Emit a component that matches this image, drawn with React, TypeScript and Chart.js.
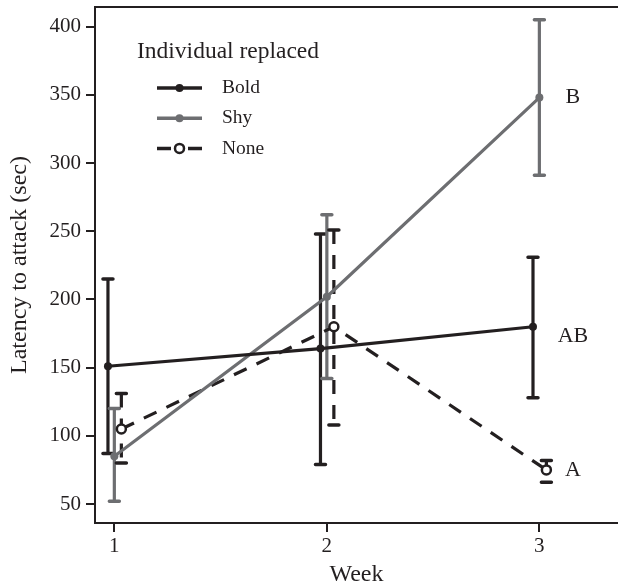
import React, { useEffect, useRef } from "react";
import { Chart, registerables } from "chart.js";

Chart.register(...registerables);

// ---- data ----
const weeks = [1, 2, 3];
const seriesNames = ["Bold", "Shy", "None"];
const boldMean = [151, 164, 180];
const boldUpper = [215, 248, 231];
const boldLower = [87, 79, 128];
const shyMean = [85, 202, 348];
const shyUpper = [120, 262, 405];
const shyLower = [52, 142, 291];
const noneMean = [105, 180, 75];
const noneUpper = [131, 251, 82];
const noneLower = [80, 108, 66];
const yTicks = [50, 100, 150, 200, 250, 300, 350, 400];
const xTicks = [1, 2, 3];
const letters = ["AB", "B", "A"];
const letterValues = [173, 348, 75];
const legendTitle = "Individual replaced";
const xTitle = "Week";
const yTitle = "Latency to attack (sec)";

// ---- styles ----
const DARK = "#231f20";
const GREY = "#6d6e71";
const FONT = "'Liberation Serif', 'Times New Roman', serif";
const dodges = [-0.03, 0, 0.033];
const colors = [DARK, GREY, DARK];
const dashes: number[][] = [[], [], [14, 11]];
const hollow = [false, false, true];
const means = [boldMean, shyMean, noneMean];
const uppers = [boldUpper, shyUpper, noneUpper];
const lowers = [boldLower, shyLower, noneLower];

const zeroPad = (s: any) => {
  s.paddingLeft = 0;
  s.paddingRight = 0;
  s.paddingTop = 0;
  s.paddingBottom = 0;
};

const errorBarPlugin = {
  id: "errorBars",
  beforeDatasetsDraw(chart: any) {
    const ctx = chart.ctx;
    const xs = chart.scales.x;
    const ys = chart.scales.y;
    ctx.save();
    means.forEach((_m, si) => {
      weeks.forEach((w, i) => {
        const x = xs.getPixelForValue(w + dodges[si]);
        const yt = ys.getPixelForValue(uppers[si][i]);
        const yb = ys.getPixelForValue(lowers[si][i]);
        ctx.strokeStyle = colors[si];
        ctx.lineWidth = 3.2;
        ctx.lineCap = "butt";
        ctx.setLineDash(dashes[si]);
        ctx.beginPath();
        ctx.moveTo(x, yt);
        ctx.lineTo(x, yb);
        ctx.stroke();
        ctx.setLineDash([]);
        ctx.lineWidth = 3.5;
        ctx.lineCap = "round";
        ctx.beginPath();
        ctx.moveTo(x - 5, yt);
        ctx.lineTo(x + 5, yt);
        ctx.moveTo(x - 5, yb);
        ctx.lineTo(x + 5, yb);
        ctx.stroke();
      });
    });
    ctx.restore();
  },
  afterDatasetsDraw(chart: any) {
    const ctx = chart.ctx;
    const xs = chart.scales.x;
    const ys = chart.scales.y;
    const area = chart.chartArea;
    ctx.save();
    // top frame line
    ctx.strokeStyle = DARK;
    ctx.lineWidth = 2;
    ctx.beginPath();
    ctx.moveTo(area.left - 1, area.top);
    ctx.lineTo(area.right, area.top);
    ctx.stroke();

    // letters
    ctx.fillStyle = DARK;
    ctx.font = `22px ${FONT}`;
    ctx.textAlign = "center";
    ctx.textBaseline = "middle";
    letters.forEach((t, i) => {
      ctx.fillText(t, xs.getPixelForValue(3.158), ys.getPixelForValue(letterValues[i]));
    });

    // legend
    const lx = area.left + 42;
    const ly = area.top + 45;
    ctx.textAlign = "left";
    ctx.font = `23.5px ${FONT}`;
    ctx.fillText(legendTitle, lx, ly);
    ctx.font = `19.5px ${FONT}`;
    seriesNames.forEach((name, si) => {
      const y = ly + 36 + si * 30.2;
      const x0 = lx + 20;
      const x1 = lx + 65;
      const xm = (x0 + x1) / 2;
      ctx.strokeStyle = colors[si];
      ctx.lineWidth = 3.5;
      ctx.lineCap = "butt";
      ctx.beginPath();
      if (dashes[si].length) {
        ctx.moveTo(x0, y);
        ctx.lineTo(x0 + 14, y);
        ctx.moveTo(x1 - 14, y);
        ctx.lineTo(x1, y);
      } else {
        ctx.moveTo(x0, y);
        ctx.lineTo(x1, y);
      }
      ctx.stroke();
      ctx.beginPath();
      if (hollow[si]) {
        ctx.arc(xm, y, 4.5, 0, Math.PI * 2);
        ctx.fillStyle = "#ffffff";
        ctx.fill();
        ctx.lineWidth = 2.5;
        ctx.stroke();
      } else {
        ctx.arc(xm, y, 4, 0, Math.PI * 2);
        ctx.fillStyle = colors[si];
        ctx.fill();
      }
      ctx.fillStyle = DARK;
      ctx.fillText(name, lx + 85, y);
    });
    ctx.restore();
  },
};

export default function App() {
  const ref = useRef<HTMLCanvasElement | null>(null);
  useEffect(() => {
    document.body.style.margin = "0";
    const canvas = ref.current;
    if (!canvas) return;
    const datasets = seriesNames.map((name, si) => ({
      label: name,
      data: weeks.map((w, i) => ({ x: w + dodges[si], y: means[si][i] })),
      borderColor: colors[si],
      backgroundColor: hollow[si] ? "#ffffff" : colors[si],
      borderWidth: 3.2,
      borderDash: dashes[si],
      pointRadius: hollow[si] ? 4.5 : 4,
      pointBorderWidth: hollow[si] ? 2.5 : 0,
      pointBorderColor: colors[si],
      pointBackgroundColor: hollow[si] ? "#ffffff" : colors[si],
      tension: 0,
      fill: false,
    }));
    const chart = new Chart(canvas, {
      type: "line",
      data: { datasets },
      options: {
        animation: false,
        responsive: false,
        maintainAspectRatio: false,
        devicePixelRatio: 1,
        layout: { padding: { top: 6, right: 0, left: 0, bottom: 0 } },
        plugins: { legend: { display: false }, tooltip: { enabled: false } },
        scales: {
          x: {
            type: "linear",
            min: 0.909,
            max: 3.37,
            afterBuildTicks: (s: any) => {
              s.ticks = xTicks.map((v) => ({ value: v }));
            },
            afterFit: (s: any) => {
              s.height = 64;
              zeroPad(s);
            },
            grid: { drawOnChartArea: false, tickLength: 9, color: DARK, lineWidth: 2 },
            border: { display: true, color: DARK, width: 2 },
            ticks: {
              color: DARK,
              font: { family: FONT, size: 21 },
              padding: 2,
              maxRotation: 0,
              autoSkip: false,
              callback: (v: any) => String(v),
            },
            title: {
              display: true,
              text: xTitle,
              color: DARK,
              font: { family: FONT, size: 24, lineHeight: 1 },
              padding: { top: 0, bottom: 0 },
            },
          },
          y: {
            type: "linear",
            min: 36.1,
            max: 414.4,
            afterBuildTicks: (s: any) => {
              s.ticks = yTicks.map((v) => ({ value: v }));
            },
            afterFit: (s: any) => {
              s.width = 95;
              zeroPad(s);
            },
            grid: { drawOnChartArea: false, tickLength: 9, color: DARK, lineWidth: 2 },
            border: { display: true, color: DARK, width: 2 },
            ticks: {
              color: DARK,
              font: { family: FONT, size: 21 },
              padding: 5,
              autoSkip: false,
              callback: (v: any) => String(v),
            },
            title: {
              display: true,
              text: yTitle,
              color: DARK,
              font: { family: FONT, size: 24, lineHeight: 1 },
              padding: { top: 8, bottom: 0 },
            },
          },
        },
      },
      plugins: [errorBarPlugin],
    });
    return () => chart.destroy();
  }, []);
  return (
    <div style={{ width: 618, height: 587, overflow: "hidden", background: "#ffffff" }}>
      <canvas ref={ref} width={625} height={587} style={{ display: "block" }} />
    </div>
  );
}
